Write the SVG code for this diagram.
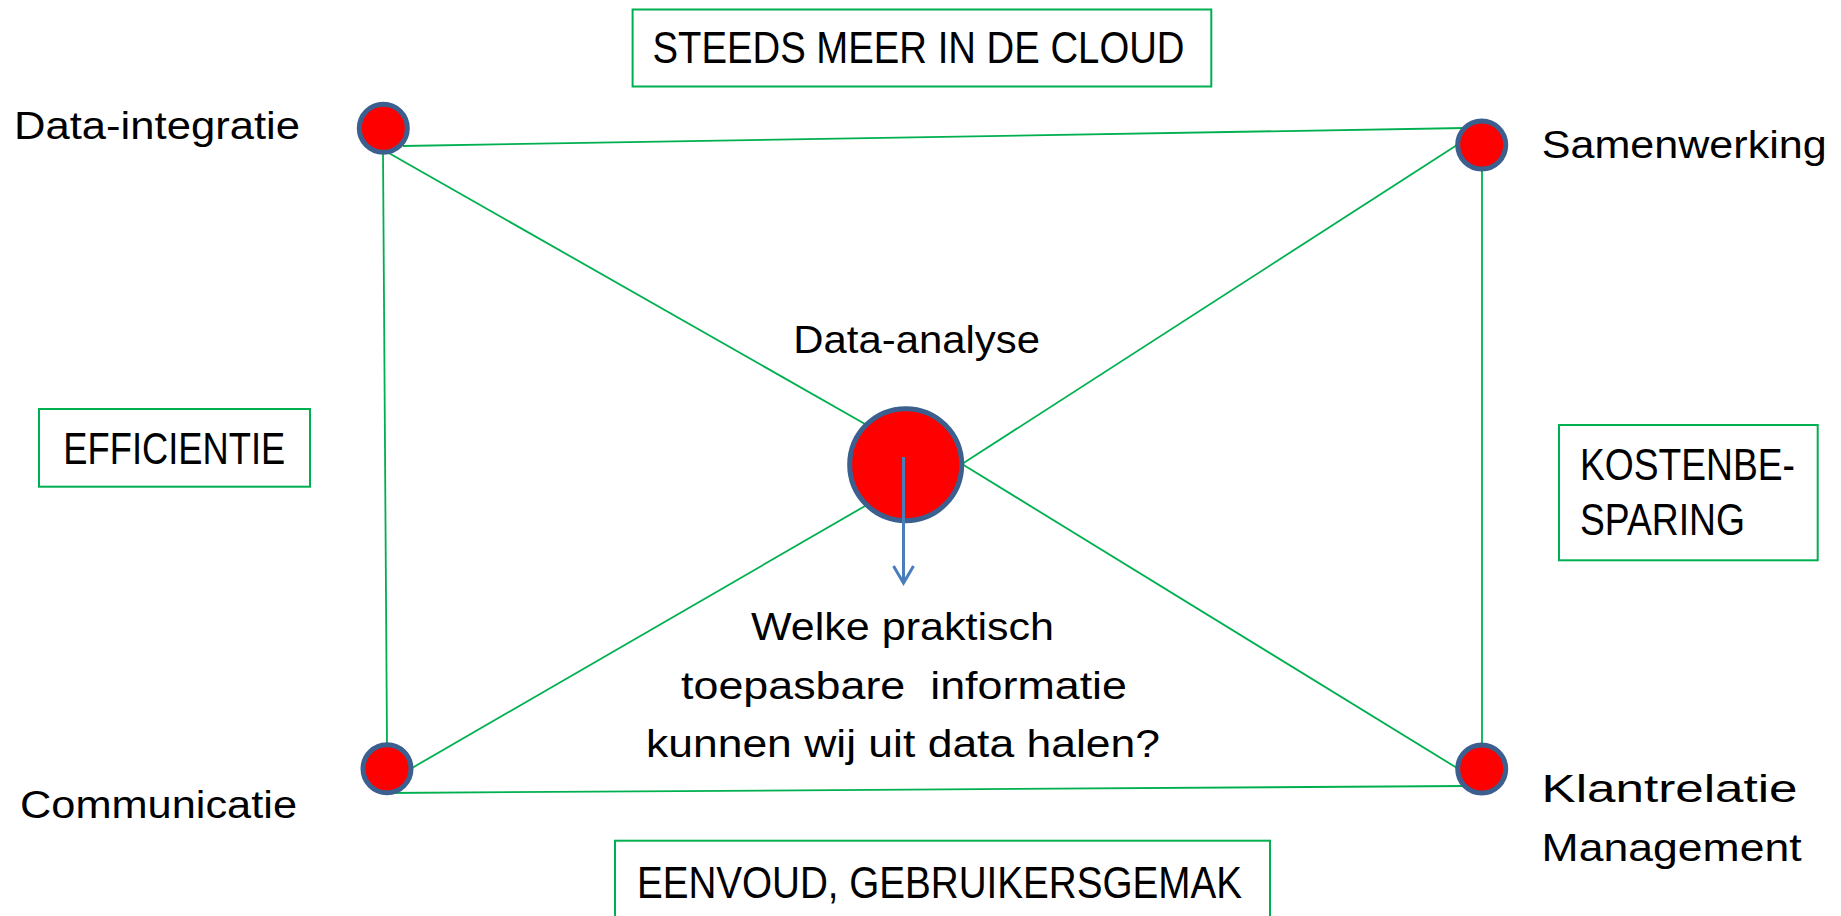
<svg xmlns="http://www.w3.org/2000/svg" width="1841" height="916" viewBox="0 0 1841 916">
<defs>
<style>
.t{font-family:"Liberation Sans",Arial,sans-serif;fill:#000;}
.lbl{font-size:38px;}
.cap{font-size:44px;}
.box{fill:#fff;stroke:#00b050;stroke-width:2;}
.edge{stroke:#00b050;stroke-width:1.8;fill:none;}
.dot{fill:#ff0000;stroke:#3b5f8e;stroke-width:5;}
.arr{stroke:#4a7ebb;stroke-width:3;fill:none;}
</style>
</defs>
<rect width="1841" height="916" fill="#fff"/>
<g id="connectors">
<line class="edge" x1="403" y1="146" x2="1465" y2="128"/>
<line class="edge" x1="387" y1="152" x2="865" y2="424"/>
<line class="edge" x1="383" y1="152" x2="387" y2="744"/>
<line class="edge" x1="1457" y1="145" x2="962" y2="464"/>
<line class="edge" x1="1482" y1="170" x2="1482" y2="744"/>
<line class="edge" x1="962" y1="464" x2="1457" y2="768"/>
<line class="edge" x1="865" y1="506" x2="412" y2="768"/>
<line class="edge" x1="387" y1="793" x2="1465" y2="786"/>
</g>
<g id="node-data-integratie">
<circle class="dot" cx="383.3" cy="128.3" r="24"/>
<text class="t lbl" x="14" y="139.3" textLength="286" lengthAdjust="spacingAndGlyphs">Data-integratie</text>
</g>
<g id="node-samenwerking">
<circle class="dot" cx="1481.7" cy="145" r="24"/>
<text class="t lbl" x="1541.7" y="158.3" textLength="285" lengthAdjust="spacingAndGlyphs">Samenwerking</text>
</g>
<g id="node-communicatie">
<circle class="dot" cx="387" cy="768.8" r="24"/>
<text class="t lbl" x="20" y="818" textLength="277" lengthAdjust="spacingAndGlyphs">Communicatie</text>
</g>
<g id="node-klantrelatie">
<circle class="dot" cx="1481.7" cy="769" r="24"/>
<text class="t lbl" x="1541.6" y="802" textLength="256" lengthAdjust="spacingAndGlyphs">Klantrelatie</text>
<text class="t lbl" x="1541.6" y="860.6" textLength="260" lengthAdjust="spacingAndGlyphs">Management</text>
</g>
<g id="node-data-analyse">
<circle class="dot" cx="905.7" cy="464.7" r="56"/>
<text class="t lbl" x="793.3" y="352.7" textLength="246.7" lengthAdjust="spacingAndGlyphs">Data-analyse</text>
<line class="arr" x1="903.5" y1="457" x2="903.5" y2="582"/>
<polyline class="arr" points="893.5,566 903.5,583 913.5,566"/>
</g>
<g id="node-question">
<text class="t lbl" x="751" y="640" textLength="303" lengthAdjust="spacingAndGlyphs">Welke praktisch</text>
<text class="t lbl" x="681" y="698.6" textLength="446" lengthAdjust="spacingAndGlyphs" xml:space="preserve">toepasbare  informatie</text>
<text class="t lbl" x="646" y="757" textLength="514" lengthAdjust="spacingAndGlyphs">kunnen wij uit data halen?</text>
</g>
<g id="node-steeds">
<rect class="box" x="632.6" y="9.5" width="578.7" height="77"/>
<text class="t cap" x="652.5" y="63.3" textLength="532" lengthAdjust="spacingAndGlyphs">STEEDS MEER IN DE CLOUD</text>
</g>
<g id="node-efficientie">
<rect class="box" x="39" y="409" width="271" height="77.7"/>
<text class="t cap" x="63.3" y="464.3" textLength="222" lengthAdjust="spacingAndGlyphs">EFFICIENTIE</text>
</g>
<g id="node-kostenbesparing">
<rect class="box" x="1559" y="425" width="258.7" height="135.3"/>
<text class="t cap" x="1580" y="480" textLength="215" lengthAdjust="spacingAndGlyphs">KOSTENBE-</text>
<text class="t cap" x="1580" y="535" textLength="165" lengthAdjust="spacingAndGlyphs">SPARING</text>
</g>
<g id="node-eenvoud">
<rect class="box" x="615" y="840.7" width="655" height="90"/>
<text class="t cap" x="636.9" y="898.3" textLength="605" lengthAdjust="spacingAndGlyphs">EENVOUD, GEBRUIKERSGEMAK</text>
</g>
</svg>
